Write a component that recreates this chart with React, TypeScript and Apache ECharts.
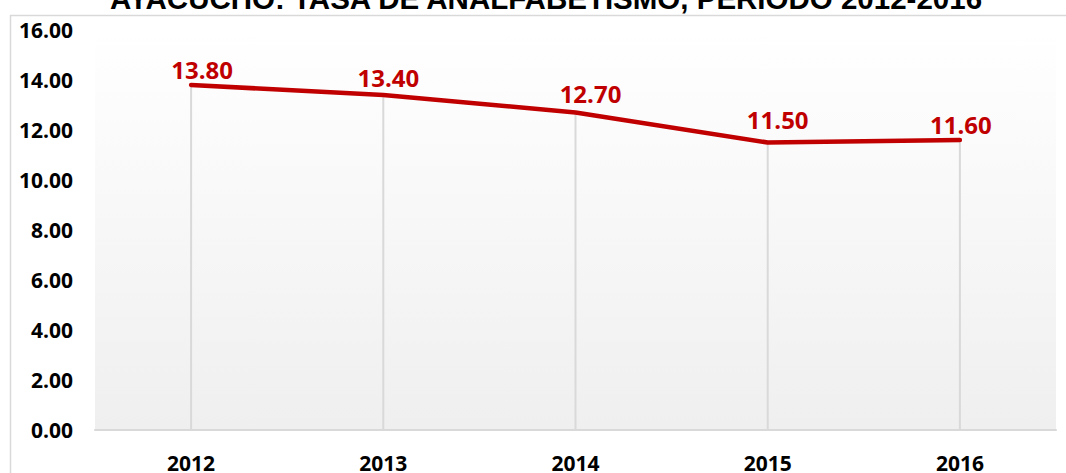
import React, { useEffect, useRef } from "react";
import * as echarts from "echarts";

const titleText = "AYACUCHO: TASA DE ANALFABETISMO, PERIODO 2012-2016";
const years = ["2012", "2013", "2014", "2015", "2016"];
const rates = [13.8, 13.4, 12.7, 11.5, 11.6];
const yMin = 0;
const yMax = 16;
const yStep = 2;

// label nudges (style only), as placed in the original chart
const labelNudges = [
  [11, 2],
  [5, 0],
  [15, -1],
  [10, -5],
  [1, 2],
];

export default function App() {
  const ref = useRef<HTMLDivElement>(null);
  useEffect(() => {
    if (!ref.current) return;
    const chart = echarts.init(ref.current, undefined, { renderer: "svg" });
    const bold = { fontFamily: "'Open Sans', sans-serif", fontWeight: "bold" as const, color: "#000" };
    chart.setOption({
      animation: false,
      backgroundColor: "#ffffff",
      graphic: [
        {
          type: "rect",
          z: -10,
          shape: { x: 10.5, y: 15.5, width: 1100, height: 600 },
          style: { fill: "none", stroke: "#d9d9d9", lineWidth: 1.5 },
          silent: true,
        },
        {
          type: "text",
          x: 546,
          y: -2,
          style: {
            text: titleText,
            fontFamily: "'Liberation Sans', Arial, sans-serif",
            fontWeight: "bold",
            fontSize: 29.5,
            fill: "#000",
            align: "center",
            verticalAlign: "middle",
          },
          silent: true,
        },
      ],
      grid: {
        left: 95,
        right: 10,
        top: 30,
        bottom: 39,
        show: true,
        borderWidth: 0,
        backgroundColor: new echarts.graphic.LinearGradient(0, 0, 0, 1, [
          { offset: 0, color: "#ffffff" },
          { offset: 1, color: "#efefef" },
        ]),
      },
      xAxis: {
        type: "category",
        data: years,
        boundaryGap: true,
        axisLine: { show: true, lineStyle: { color: "#d9d9d9", width: 2 } },
        axisTick: { show: false },
        axisLabel: { ...bold, fontSize: 21, margin: 22 },
        splitLine: { show: false },
      },
      yAxis: {
        type: "value",
        min: yMin,
        max: yMax,
        interval: yStep,
        axisLine: { show: false },
        axisTick: { show: false },
        splitLine: { show: false },
        axisLabel: { ...bold, fontSize: 21, margin: 22, formatter: (v: number) => v.toFixed(2) },
      },
      series: [
        {
          type: "bar",
          data: rates,
          barWidth: 2,
          silent: true,
          itemStyle: { color: "#d9d9d9" },
          z: 1,
        },
        {
          type: "line",
          data: rates.map((v, i) => ({
            value: v,
            label: { offset: labelNudges[i] },
          })),
          symbol: "circle",
          symbolSize: 2,
          itemStyle: { color: "#c00000" },
          lineStyle: { color: "#c00000", width: 4.5, cap: "round" },
          label: {
            show: true,
            position: "top",
            distance: 5,
            fontFamily: "'Open Sans', sans-serif",
            fontWeight: "bold",
            fontSize: 24,
            color: "#c00000",
            formatter: (p: any) => Number(p.value).toFixed(2),
          },
          z: 3,
        },
      ],
    });
    return () => chart.dispose();
  }, []);
  return (
    <div
      ref={ref}
      style={{ position: "fixed", left: 0, top: 0, width: 1066, height: 473 }}
    />
  );
}
